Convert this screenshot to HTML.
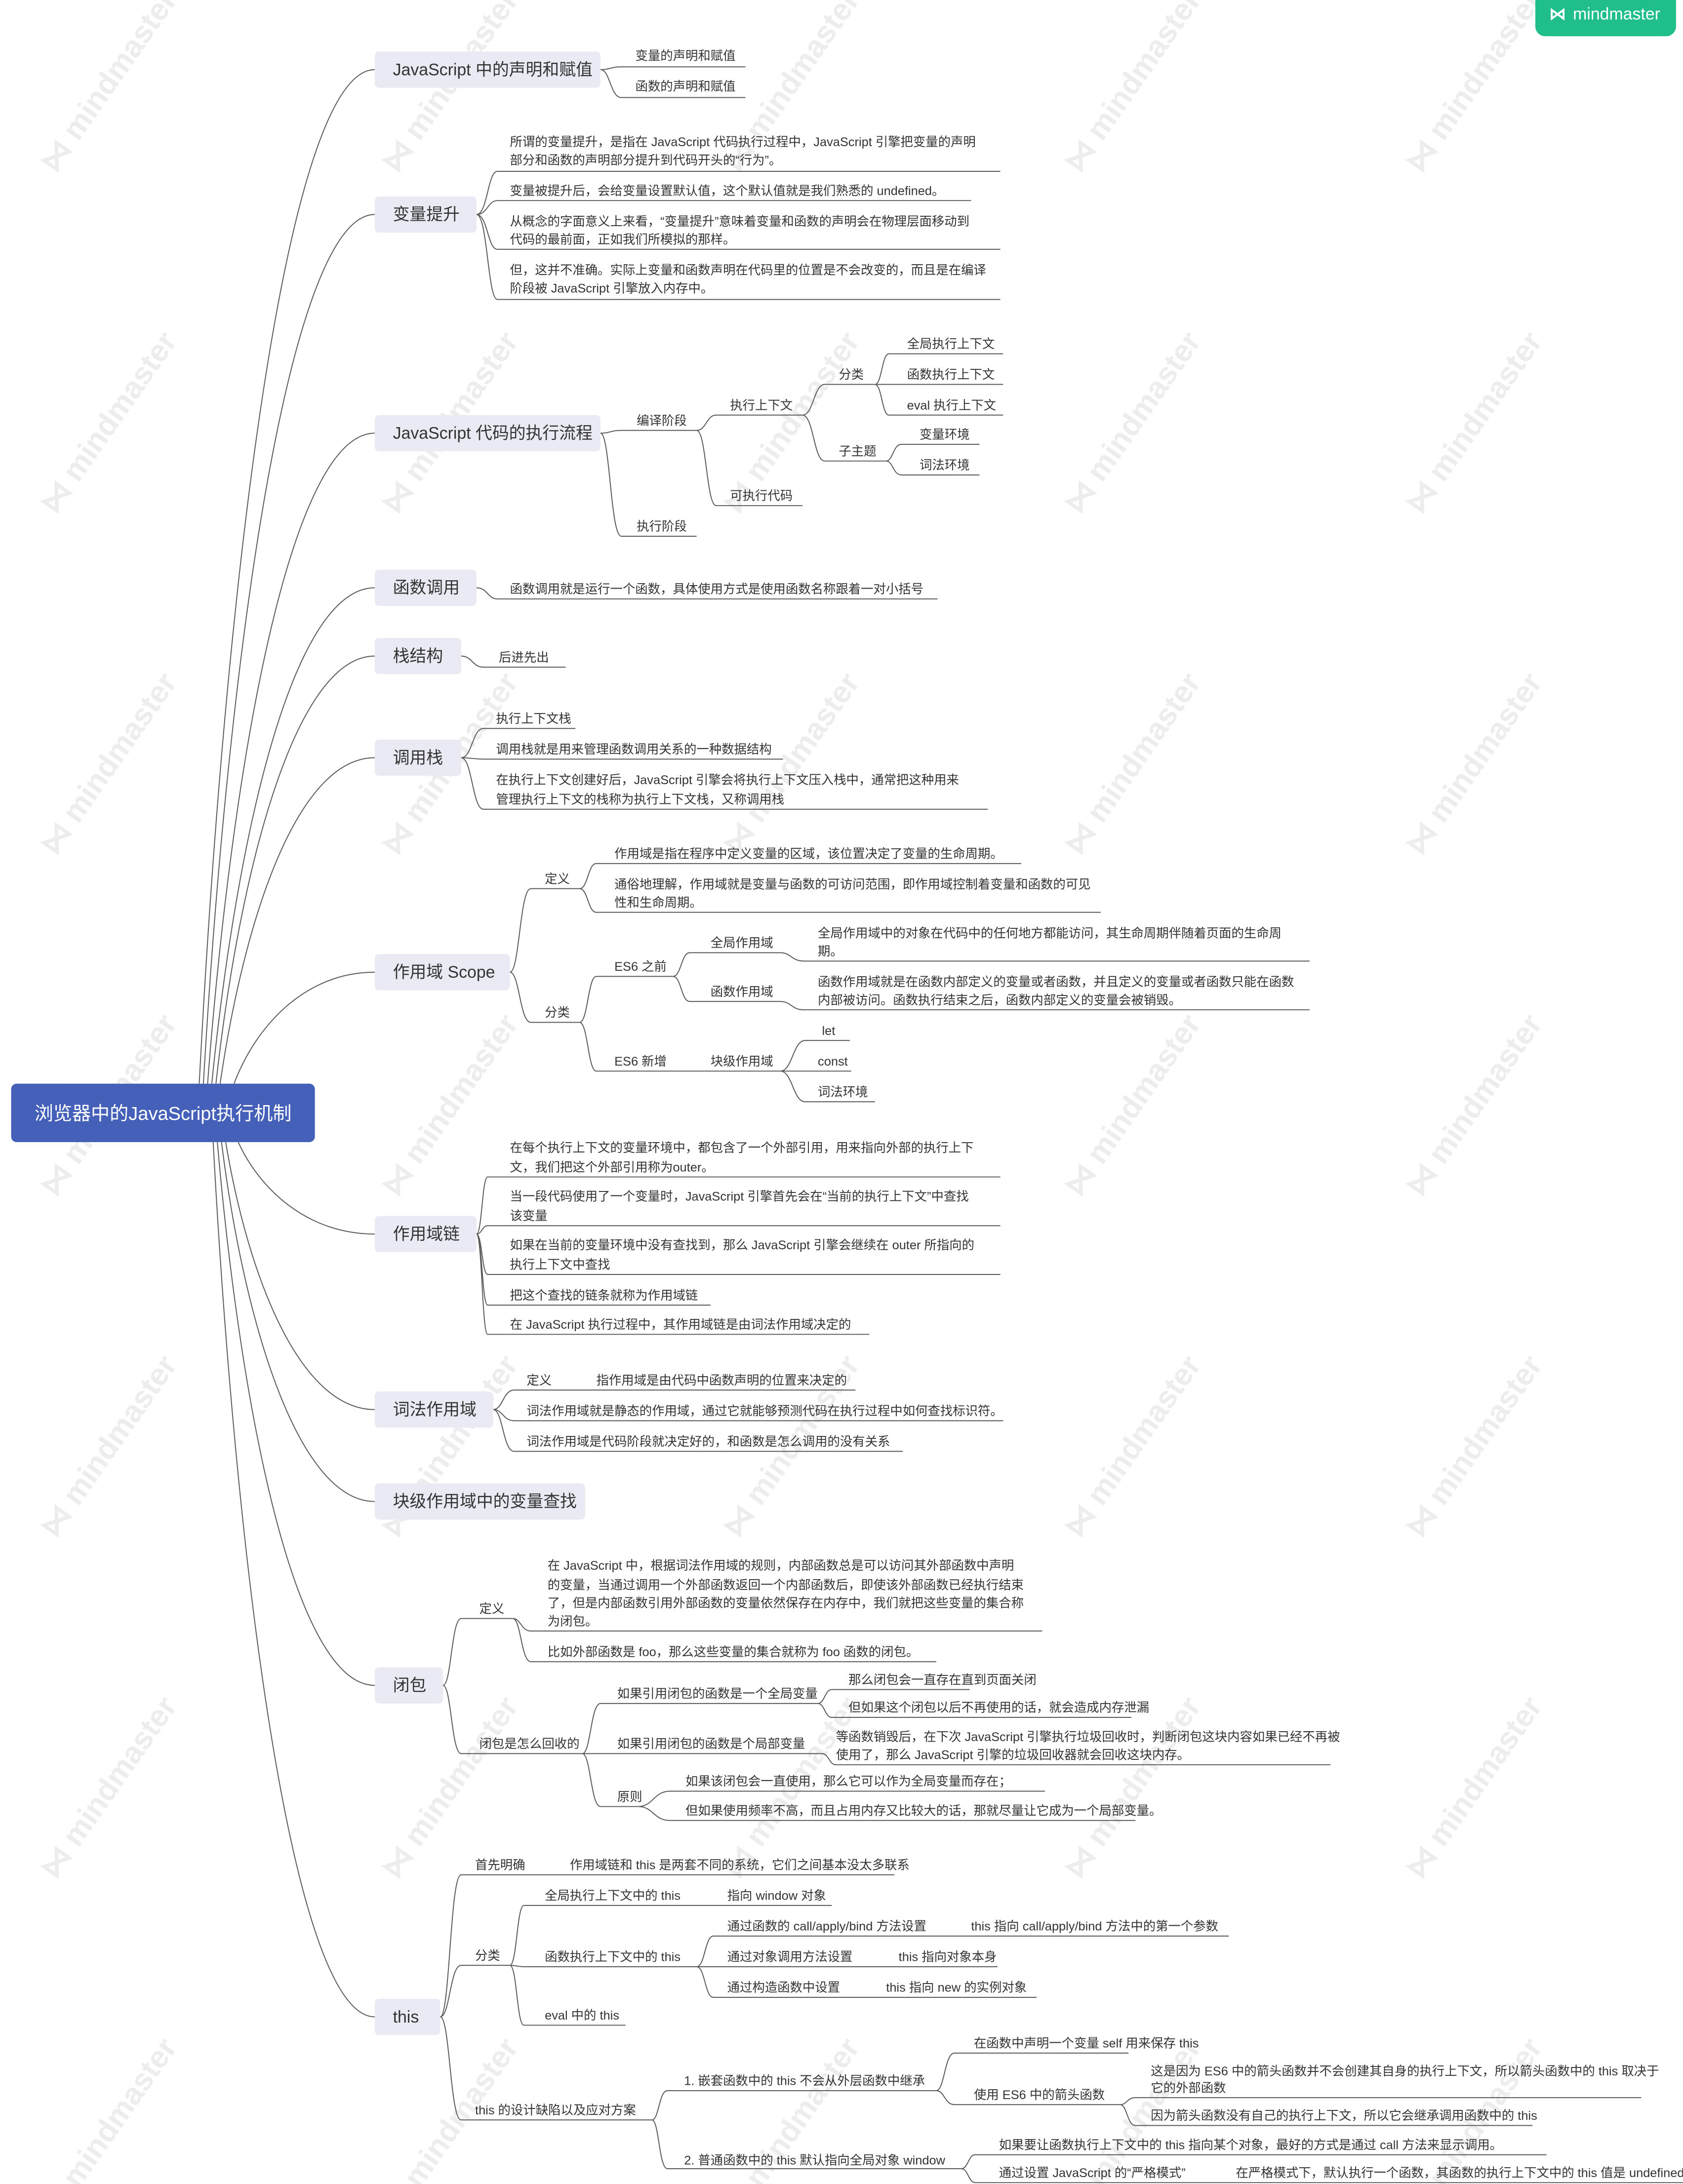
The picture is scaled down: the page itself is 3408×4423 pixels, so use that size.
<!DOCTYPE html>
<html><head><meta charset="utf-8"><style>
html,body{margin:0;padding:0;background:#fff;}
svg{display:block;}
.t{font-family:"Liberation Sans","Noto Sans CJK SC",sans-serif;font-size:9px;fill:#333;}
.m{font-family:"Liberation Sans","Noto Sans CJK SC",sans-serif;font-size:12px;fill:#333;}
.w{font-family:"Liberation Sans",sans-serif;font-size:22px;font-weight:bold;fill:#ededed;}
path{fill:none;stroke:#5a5a5a;stroke-width:0.7;}
</style></head><body>
<svg width="3408" height="4423" viewBox="0 0 1208 1568" preserveAspectRatio="none" xmlns="http://www.w3.org/2000/svg">
<rect width="1208" height="1568" fill="#fff"/>
<!-- watermarks -->
<g>
<text class="w" transform="translate(40,125) rotate(-55)">⋈ mindmaster</text>
<text class="w" transform="translate(285,125) rotate(-55)">⋈ mindmaster</text>
<text class="w" transform="translate(530,125) rotate(-55)">⋈ mindmaster</text>
<text class="w" transform="translate(775,125) rotate(-55)">⋈ mindmaster</text>
<text class="w" transform="translate(1020,125) rotate(-55)">⋈ mindmaster</text>
<text class="w" transform="translate(40,370) rotate(-55)">⋈ mindmaster</text>
<text class="w" transform="translate(285,370) rotate(-55)">⋈ mindmaster</text>
<text class="w" transform="translate(530,370) rotate(-55)">⋈ mindmaster</text>
<text class="w" transform="translate(775,370) rotate(-55)">⋈ mindmaster</text>
<text class="w" transform="translate(1020,370) rotate(-55)">⋈ mindmaster</text>
<text class="w" transform="translate(40,615) rotate(-55)">⋈ mindmaster</text>
<text class="w" transform="translate(285,615) rotate(-55)">⋈ mindmaster</text>
<text class="w" transform="translate(530,615) rotate(-55)">⋈ mindmaster</text>
<text class="w" transform="translate(775,615) rotate(-55)">⋈ mindmaster</text>
<text class="w" transform="translate(1020,615) rotate(-55)">⋈ mindmaster</text>
<text class="w" transform="translate(40,860) rotate(-55)">⋈ mindmaster</text>
<text class="w" transform="translate(285,860) rotate(-55)">⋈ mindmaster</text>
<text class="w" transform="translate(775,860) rotate(-55)">⋈ mindmaster</text>
<text class="w" transform="translate(1020,860) rotate(-55)">⋈ mindmaster</text>
<text class="w" transform="translate(40,1105) rotate(-55)">⋈ mindmaster</text>
<text class="w" transform="translate(285,1105) rotate(-55)">⋈ mindmaster</text>
<text class="w" transform="translate(530,1105) rotate(-55)">⋈ mindmaster</text>
<text class="w" transform="translate(775,1105) rotate(-55)">⋈ mindmaster</text>
<text class="w" transform="translate(1020,1105) rotate(-55)">⋈ mindmaster</text>
<text class="w" transform="translate(40,1350) rotate(-55)">⋈ mindmaster</text>
<text class="w" transform="translate(285,1350) rotate(-55)">⋈ mindmaster</text>
<text class="w" transform="translate(530,1350) rotate(-55)">⋈ mindmaster</text>
<text class="w" transform="translate(775,1350) rotate(-55)">⋈ mindmaster</text>
<text class="w" transform="translate(1020,1350) rotate(-55)">⋈ mindmaster</text>
<text class="w" transform="translate(40,1595) rotate(-55)">⋈ mindmaster</text>
<text class="w" transform="translate(285,1595) rotate(-55)">⋈ mindmaster</text>
<text class="w" transform="translate(530,1595) rotate(-55)">⋈ mindmaster</text>
<text class="w" transform="translate(775,1595) rotate(-55)">⋈ mindmaster</text>
<text class="w" transform="translate(1020,1595) rotate(-55)">⋈ mindmaster</text>
</g>
<!-- badge -->
<rect x="1102" y="-6" width="101" height="32" rx="7" fill="#1fbe8b"/>
<text x="1112" y="14" style="font-family:'Liberation Sans',sans-serif;font-size:12px;font-weight:bold;fill:#fff">⋈</text>
<text x="1129" y="14" style="font-family:'Liberation Sans',sans-serif;font-size:12px;fill:#fff">mindmaster</text>

<!-- root connectors -->
<path d="M143 778C162 414 206 50 269 50"/>
<path d="M146 778C164 466 208 154 269 154"/>
<path d="M149 778C167 544 209 311 269 311"/>
<path d="M152 778C170 600 210 422 269 422"/>
<path d="M155 778C172 624 212 471 269 471"/>
<path d="M158 778C175 661 213 544 269 544"/>
<path d="M168 778C183 738 218 698 269 698"/>
<path d="M171 820C186 853 220 886 269 886"/>
<path d="M162 820C178 916 215 1012 269 1012"/>
<path d="M159 820C175 949 214 1078 269 1078"/>
<path d="M156 820C173 1015 212 1210 269 1210"/>
<path d="M153 820C170 1134 211 1448 269 1448"/>

<!-- section 1 -->
<path d="M431 50C438 50 438 48 446 48H535M431 50C438 50 438 70 446 70H535"/>
<!-- section 2 -->
<path d="M342 154C350 154 350 123 357 123H718M342 154C350 154 350 144 357 144H697M342 154C350 154 350 179 357 179H718M342 154C350 154 350 215 357 215H718"/>
<!-- section 3 -->
<path d="M431 311C438 311 438 309 446 309H500M431 311C438 311 438 385 446 385H500"/>
<path d="M500 309C507 309 507 298 514 298H576M500 309C507 309 507 363 514 363H576"/>
<path d="M576 298C584 298 584 276 592 276H628M576 298C584 298 584 331 592 331H636"/>
<path d="M628 276C633 276 633 254 638 254H720M628 276C633 276 633 276 638 276H720M628 276C633 276 633 298 638 298H720"/>
<path d="M636 331C641 331 641 319 647 319H703M636 331C641 331 641 341 647 341H703"/>
<!-- section 4,5,6 -->
<path d="M342 422C350 422 350 430 357 430H673"/>
<path d="M331 471C339 471 339 479 347 479H406"/>
<path d="M331 544C339 544 339 523 347 523H413M331 544C339 544 339 545 347 545H562M331 544C339 544 339 581 347 581H709"/>
<!-- section 7 -->
<path d="M366 698C373 698 373 638 381 638H416M366 698C373 698 373 734 381 734H416"/>
<path d="M416 638C422 638 422 620 428 620H733M416 638C422 638 422 655 428 655H790"/>
<path d="M416 734C422 734 422 701 428 701H483M416 734C422 734 422 769 428 769H560"/>
<path d="M483 701C489 701 489 684 495 684H560M483 701C489 701 489 719 495 719H560"/>
<path d="M560 684C568 684 568 690 577 690H940M560 719C568 719 568 725 577 725H940"/>
<path d="M560 769C569 769 569 747 578 747H610M560 769C569 769 569 769 578 769H611M560 769C569 769 569 791 578 791H628"/>
<!-- section 8 -->
<path d="M342 886C346 886 346 845 350 845H718M342 886C346 886 346 880 350 880H718M342 886C346 886 346 915 350 915H718M342 886C346 886 346 937 350 937H510M342 886C346 886 346 958 350 958H624"/>
<!-- section 9 -->
<path d="M354 1012C361 1012 361 998 369 998H614M354 1012C361 1012 361 1020 369 1020H720M354 1012C361 1012 361 1042 369 1042H648"/>
<!-- section 11 -->
<path d="M318 1210C324 1210 324 1162 331 1162H368M318 1210C324 1210 324 1259 331 1259H418"/>
<path d="M368 1162C374 1162 374 1171 381 1171H748M368 1162C374 1162 374 1193 381 1193H672"/>
<path d="M418 1259C424 1259 424 1223 431 1223H587M418 1259C424 1259 424 1259 431 1259H590M418 1259C424 1259 424 1297 431 1297H458"/>
<path d="M587 1223C592 1223 592 1213 597 1213H696M587 1223C592 1223 592 1233 597 1233H812"/>
<path d="M590 1259C595 1259 595 1267 600 1267H955"/>
<path d="M458 1297C469 1297 469 1286 481 1286H750M458 1297C469 1297 469 1307 481 1307H815"/>
<!-- section 12 -->
<path d="M316 1448C323 1448 323 1346 331 1346H642M316 1448C323 1448 323 1411 331 1411H366M316 1448C323 1448 323 1522 331 1522H468"/>
<path d="M366 1411C371 1411 371 1368 376 1368H597M366 1411C371 1411 371 1412 376 1412H500M366 1411C371 1411 371 1454 376 1454H449"/>
<path d="M500 1412C506 1412 506 1390 512 1390H882M500 1412C506 1412 506 1412 512 1412H716M500 1412C506 1412 506 1434 512 1434H744"/>
<path d="M468 1522C473 1522 473 1501 479 1501H672M468 1522C473 1522 473 1557 479 1557H690"/>
<path d="M672 1501C678 1501 678 1474 685 1474H810M672 1501C678 1501 678 1511 685 1511H804"/>
<path d="M804 1511C809 1511 809 1506 815 1506H1178M804 1511C809 1511 809 1526 815 1526H1100"/>
<path d="M690 1557C695 1557 695 1547 700 1547H1110M690 1557C695 1557 695 1567 700 1567H1208"/>

<!-- root -->
<rect x="8" y="778" width="218" height="42" rx="4" fill="#4460b8"/>
<text x="117" y="804" text-anchor="middle" style="font-family:'Liberation Sans','Noto Sans CJK SC',sans-serif;font-size:13.5px;fill:#fff">浏览器中的JavaScript执行机制</text>

<!-- main nodes -->
<g fill="#e9eaf3">
<rect x="269" y="37" width="162" height="26" rx="3"/>
<rect x="269" y="141" width="73" height="26" rx="3"/>
<rect x="269" y="298" width="162" height="26" rx="3"/>
<rect x="269" y="409" width="73" height="26" rx="3"/>
<rect x="269" y="458" width="62" height="26" rx="3"/>
<rect x="269" y="531" width="62" height="26" rx="3"/>
<rect x="269" y="685" width="97" height="26" rx="3"/>
<rect x="269" y="873" width="73" height="26" rx="3"/>
<rect x="269" y="999" width="85" height="26" rx="3"/>
<rect x="269" y="1065" width="151" height="26" rx="3"/>
<rect x="269" y="1197" width="49" height="26" rx="3"/>
<rect x="269" y="1435" width="47" height="26" rx="3"/>
</g>
<text class="m" x="282" y="54">JavaScript 中的声明和赋值</text>
<text class="m" x="282" y="158">变量提升</text>
<text class="m" x="282" y="315">JavaScript 代码的执行流程</text>
<text class="m" x="282" y="426">函数调用</text>
<text class="m" x="282" y="475">栈结构</text>
<text class="m" x="282" y="548">调用栈</text>
<text class="m" x="282" y="702">作用域 Scope</text>
<text class="m" x="282" y="890">作用域链</text>
<text class="m" x="282" y="1016">词法作用域</text>
<text class="m" x="282" y="1082">块级作用域中的变量查找</text>
<text class="m" x="282" y="1214">闭包</text>
<text class="m" x="282" y="1452">this</text>

<!-- leaf texts -->
<g class="t">
<text x="456" y="43">变量的声明和赋值</text>
<text x="456" y="65">函数的声明和赋值</text>

<text x="366" y="105">所谓的变量提升，是指在 JavaScript 代码执行过程中，JavaScript 引擎把变量的声明</text>
<text x="366" y="118">部分和函数的声明部分提升到代码开头的“行为”。</text>
<text x="366" y="140">变量被提升后，会给变量设置默认值，这个默认值就是我们熟悉的 undefined。</text>
<text x="366" y="162">从概念的字面意义上来看，“变量提升”意味着变量和函数的声明会在物理层面移动到</text>
<text x="366" y="175">代码的最前面，正如我们所模拟的那样。</text>
<text x="366" y="197">但，这并不准确。实际上变量和函数声明在代码里的位置是不会改变的，而且是在编译</text>
<text x="366" y="210">阶段被 JavaScript 引擎放入内存中。</text>

<text x="457" y="305">编译阶段</text>
<text x="457" y="381">执行阶段</text>
<text x="524" y="294">执行上下文</text>
<text x="524" y="359">可执行代码</text>
<text x="602" y="272">分类</text>
<text x="602" y="327">子主题</text>
<text x="651" y="250">全局执行上下文</text>
<text x="651" y="272">函数执行上下文</text>
<text x="651" y="294">eval 执行上下文</text>
<text x="660" y="315">变量环境</text>
<text x="660" y="337">词法环境</text>

<text x="366" y="426">函数调用就是运行一个函数，具体使用方式是使用函数名称跟着一对小括号</text>
<text x="358" y="475">后进先出</text>
<text x="356" y="519">执行上下文栈</text>
<text x="356" y="541">调用栈就是用来管理函数调用关系的一种数据结构</text>
<text x="356" y="563">在执行上下文创建好后，JavaScript 引擎会将执行上下文压入栈中，通常把这种用来</text>
<text x="356" y="577">管理执行上下文的栈称为执行上下文栈，又称调用栈</text>

<text x="391" y="634">定义</text>
<text x="391" y="730">分类</text>
<text x="441" y="616">作用域是指在程序中定义变量的区域，该位置决定了变量的生命周期。</text>
<text x="441" y="638">通俗地理解，作用域就是变量与函数的可访问范围，即作用域控制着变量和函数的可见</text>
<text x="441" y="651">性和生命周期。</text>
<text x="441" y="697">ES6 之前</text>
<text x="441" y="765">ES6 新增</text>
<text x="510" y="680">全局作用域</text>
<text x="510" y="715">函数作用域</text>
<text x="510" y="765">块级作用域</text>
<text x="587" y="673">全局作用域中的对象在代码中的任何地方都能访问，其生命周期伴随着页面的生命周</text>
<text x="587" y="686">期。</text>
<text x="587" y="708">函数作用域就是在函数内部定义的变量或者函数，并且定义的变量或者函数只能在函数</text>
<text x="587" y="721">内部被访问。函数执行结束之后，函数内部定义的变量会被销毁。</text>
<text x="590" y="743">let</text>
<text x="587" y="765">const</text>
<text x="587" y="787">词法环境</text>

<text x="366" y="827">在每个执行上下文的变量环境中，都包含了一个外部引用，用来指向外部的执行上下</text>
<text x="366" y="841">文，我们把这个外部引用称为outer。</text>
<text x="366" y="862">当一段代码使用了一个变量时，JavaScript 引擎首先会在“当前的执行上下文”中查找</text>
<text x="366" y="876">该变量</text>
<text x="366" y="897">如果在当前的变量环境中没有查找到，那么 JavaScript 引擎会继续在 outer 所指向的</text>
<text x="366" y="911">执行上下文中查找</text>
<text x="366" y="933">把这个查找的链条就称为作用域链</text>
<text x="366" y="954">在 JavaScript 执行过程中，其作用域链是由词法作用域决定的</text>

<text x="378" y="994">定义</text>
<text x="428" y="994">指作用域是由代码中函数声明的位置来决定的</text>
<text x="378" y="1016">词法作用域就是静态的作用域，通过它就能够预测代码在执行过程中如何查找标识符。</text>
<text x="378" y="1038">词法作用域是代码阶段就决定好的，和函数是怎么调用的没有关系</text>

<text x="344" y="1158">定义</text>
<text x="344" y="1255">闭包是怎么回收的</text>
<text x="393" y="1127">在 JavaScript 中，根据词法作用域的规则，内部函数总是可以访问其外部函数中声明</text>
<text x="393" y="1141">的变量，当通过调用一个外部函数返回一个内部函数后，即使该外部函数已经执行结束</text>
<text x="393" y="1154">了，但是内部函数引用外部函数的变量依然保存在内存中，我们就把这些变量的集合称</text>
<text x="393" y="1167">为闭包。</text>
<text x="393" y="1189">比如外部函数是 foo，那么这些变量的集合就称为 foo 函数的闭包。</text>
<text x="443" y="1219">如果引用闭包的函数是一个全局变量</text>
<text x="443" y="1255">如果引用闭包的函数是个局部变量</text>
<text x="443" y="1293">原则</text>
<text x="609" y="1209">那么闭包会一直存在直到页面关闭</text>
<text x="609" y="1229">但如果这个闭包以后不再使用的话，就会造成内存泄漏</text>
<text x="600" y="1250">等函数销毁后，在下次 JavaScript 引擎执行垃圾回收时，判断闭包这块内容如果已经不再被</text>
<text x="600" y="1263">使用了，那么 JavaScript 引擎的垃圾回收器就会回收这块内存。</text>
<text x="492" y="1282">如果该闭包会一直使用，那么它可以作为全局变量而存在；</text>
<text x="492" y="1303">但如果使用频率不高，而且占用内存又比较大的话，那就尽量让它成为一个局部变量。</text>

<text x="341" y="1342">首先明确</text>
<text x="409" y="1342">作用域链和 this 是两套不同的系统，它们之间基本没太多联系</text>
<text x="341" y="1407">分类</text>
<text x="341" y="1518">this 的设计缺陷以及应对方案</text>
<text x="391" y="1364">全局执行上下文中的 this</text>
<text x="522" y="1364">指向 window 对象</text>
<text x="391" y="1408">函数执行上下文中的 this</text>
<text x="391" y="1450">eval 中的 this</text>
<text x="522" y="1386">通过函数的 call/apply/bind 方法设置</text>
<text x="697" y="1386">this 指向 call/apply/bind 方法中的第一个参数</text>
<text x="522" y="1408">通过对象调用方法设置</text>
<text x="645" y="1408">this 指向对象本身</text>
<text x="522" y="1430">通过构造函数中设置</text>
<text x="636" y="1430">this 指向 new 的实例对象</text>
<text x="491" y="1497">1. 嵌套函数中的 this 不会从外层函数中继承</text>
<text x="491" y="1554">2. 普通函数中的 this 默认指向全局对象 window</text>
<text x="699" y="1470">在函数中声明一个变量 self 用来保存 this</text>
<text x="699" y="1507">使用 ES6 中的箭头函数</text>
<text x="826" y="1490">这是因为 ES6 中的箭头函数并不会创建其自身的执行上下文，所以箭头函数中的 this 取决于</text>
<text x="826" y="1502">它的外部函数</text>
<text x="826" y="1522">因为箭头函数没有自己的执行上下文，所以它会继承调用函数中的 this</text>
<text x="717" y="1543">如果要让函数执行上下文中的 this 指向某个对象，最好的方式是通过 call 方法来显示调用。</text>
<text x="717" y="1563">通过设置 JavaScript 的“严格模式”</text>
<text x="887" y="1563">在严格模式下，默认执行一个函数，其函数的执行上下文中的 this 值是 undefined</text>
</g>
</svg>
</body></html>
